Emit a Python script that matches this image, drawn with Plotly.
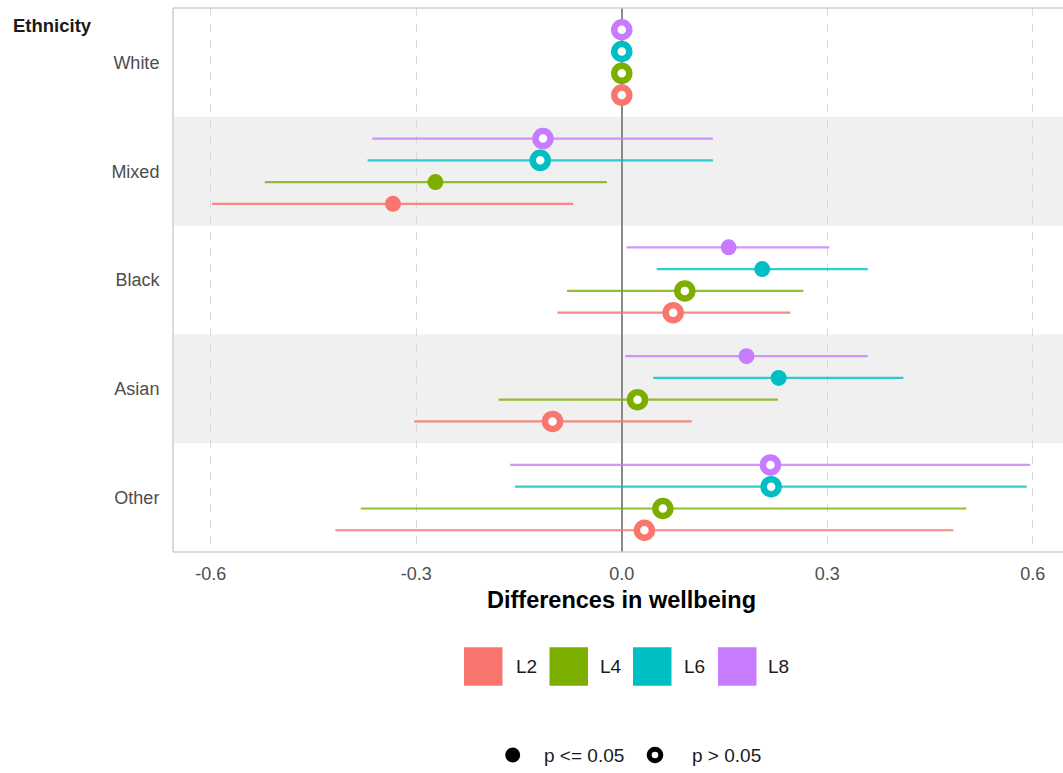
import plotly.graph_objects as go

# ---------------- data ----------------
categories = ["White", "Mixed", "Black", "Asian", "Other"]
levels = ["L2", "L4", "L6", "L8"]

est = {
    "L2": [0.0, -0.334, 0.075, -0.101, 0.033],
    "L4": [0.0, -0.272, 0.092, 0.023, 0.060],
    "L6": [0.0, -0.119, 0.205, 0.229, 0.218],
    "L8": [0.0, -0.115, 0.156, 0.182, 0.217],
}
lo = {
    "L2": [0.0, -0.598, -0.094, -0.303, -0.418],
    "L4": [0.0, -0.521, -0.080, -0.180, -0.381],
    "L6": [0.0, -0.371, 0.051, 0.046, -0.156],
    "L8": [0.0, -0.364, 0.007, 0.005, -0.163],
}
hi = {
    "L2": [0.0, -0.071, 0.246, 0.102, 0.484],
    "L4": [0.0, -0.022, 0.265, 0.228, 0.503],
    "L6": [0.0, 0.133, 0.359, 0.411, 0.591],
    "L8": [0.0, 0.133, 0.303, 0.359, 0.596],
}
# True = p <= 0.05 (filled), False = p > 0.05 (open)
sig = {
    "L2": [False, True, False, False, False],
    "L4": [False, True, False, False, False],
    "L6": [False, False, True, True, False],
    "L8": [False, False, True, True, False],
}
x_ticks = [-0.6, -0.3, 0.0, 0.3, 0.6]
x_tick_text = ["-0.6", "-0.3", "0.0", "0.3", "0.6"]
shape_labels = ["p <= 0.05", "p > 0.05"]

# ---------------- styles ----------------
colors = {"L2": "#F8766D", "L4": "#7CAE00", "L6": "#00BFC4", "L8": "#C77CFF"}
line_colors = {"L2": "rgba(248,118,109,0.85)", "L4": "rgba(124,174,0,0.8)",
               "L6": "rgba(0,191,196,0.8)", "L8": "rgba(199,124,255,0.8)"}
dodge = {"L2": -0.3, "L4": -0.1, "L6": 0.1, "L8": 0.3}
FONT = "Liberation Sans, Arial, Helvetica, sans-serif"

W, H = 1063, 773
L, R, T, B = 173, 0, 8, 221
PW, PH = W - L - R, H - T - B


def px2x(px):
    return (px - L) / PW


def py2y(py):
    return (T + PH - py) / PH


ncat = len(categories)
cat_pos = {c: ncat - i for i, c in enumerate(categories)}

fig = go.Figure()

for lv in levels:
    ys = [cat_pos[c] + dodge[lv] for c in categories]
    e = est[lv]
    plus = [h - v for h, v in zip(hi[lv], e)]
    minus = [v - l for v, l in zip(e, lo[lv])]
    fig.add_trace(go.Scatter(
        x=e, y=ys, mode="markers", name=lv, showlegend=False,
        error_x=dict(type="data", symmetric=False, array=plus, arrayminus=minus,
                     width=0, thickness=2.2, color=line_colors[lv]),
        marker=dict(
            size=[16 if s else 15 for s in sig[lv]],
            opacity=1,
            color=[colors[lv] if s else "white" for s in sig[lv]],
            line=dict(color=colors[lv], width=[0 if s else 6.5 for s in sig[lv]]),
        ),
        hoverinfo="skip",
    ))

shapes = []
# shaded bands for alternating categories
for i, c in enumerate(categories):
    if i % 2 == 1:
        shapes.append(dict(type="rect", xref="paper", yref="y", x0=0, x1=1,
                           y0=cat_pos[c] - 0.5, y1=cat_pos[c] + 0.5,
                           fillcolor="#F0F0F0", line=dict(width=0), layer="below"))
# panel border (left, top, bottom)
border = "#CFCFCF"
shapes += [
    dict(type="line", xref="paper", yref="paper", x0=0, x1=0, y0=0, y1=1,
         line=dict(color=border, width=1.5)),
    dict(type="line", xref="paper", yref="paper", x0=0, x1=1, y0=1, y1=1,
         line=dict(color=border, width=1.5)),
    dict(type="line", xref="paper", yref="paper", x0=0, x1=1, y0=0, y1=0,
         line=dict(color=border, width=1.5)),
]

annotations = []
# colour legend (manual keys)
key_left = [464, 549.5, 633, 718]
label_left = [513.5, 598, 682, 766]
key_size = 38.5
ky = 666.5
for lv, kx, lx in zip(levels, key_left, label_left):
    shapes.append(dict(type="rect", xref="paper", yref="paper",
                       x0=px2x(kx), x1=px2x(kx + key_size),
                       y0=py2y(ky + key_size / 2), y1=py2y(ky - key_size / 2),
                       fillcolor=colors[lv], line=dict(width=0)))
    annotations.append(dict(x=px2x(lx), y=py2y(ky), xref="paper", yref="paper",
                            text=lv, showarrow=False, xanchor="left", yanchor="middle",
                            font=dict(family=FONT, size=19, color="#1A1A1A")))

# shape legend (manual keys)
sy = 755
# filled dot
shapes.append(dict(type="circle", xref="paper", yref="paper",
                   x0=px2x(512.7 - 7.5), x1=px2x(512.7 + 7.5),
                   y0=py2y(sy + 7.5), y1=py2y(sy - 7.5),
                   fillcolor="black", line=dict(width=0)))
# open ring
shapes.append(dict(type="circle", xref="paper", yref="paper",
                   x0=px2x(655 - 5.8), x1=px2x(655 + 5.8),
                   y0=py2y(sy + 5.8), y1=py2y(sy - 5.8),
                   fillcolor="white", line=dict(color="black", width=5)))
for txt, lx in zip(shape_labels, [542, 690]):
    annotations.append(dict(x=px2x(lx), y=py2y(sy), xref="paper", yref="paper",
                            text=txt, showarrow=False, xanchor="left", yanchor="middle",
                            font=dict(family=FONT, size=19, color="#1A1A1A")))

# y legend title
annotations.append(dict(x=px2x(11), y=py2y(25), xref="paper", yref="paper",
                        text="<b>Ethnicity</b>", showarrow=False, xanchor="left",
                        yanchor="middle", font=dict(family=FONT, size=18.5, color="#1A1A1A")))
# x axis title
annotations.append(dict(x=px2x(621), y=py2y(600), xref="paper", yref="paper",
                        text="<b>Differences in wellbeing</b>", showarrow=False,
                        xanchor="center", yanchor="middle",
                        font=dict(family=FONT, size=23.5, color="#000000")))

fig.update_layout(
    width=W, height=H,
    margin=dict(l=L, r=R, t=T, b=B, pad=0),
    plot_bgcolor="white", paper_bgcolor="white",
    shapes=shapes, annotations=annotations,
    showlegend=False,
    font=dict(family=FONT),
    xaxis=dict(range=[-0.655, 0.644], tickvals=x_ticks, ticktext=x_tick_text,
               showgrid=True, gridcolor="#DADADA", gridwidth=1, griddash="8px,8px",
               zeroline=True, zerolinecolor="#8A8A8A", zerolinewidth=2,
               ticks="outside", ticklen=5, tickcolor="rgba(0,0,0,0)",
               tickfont=dict(family=FONT, size=18, color="#4D4D4D"),
               showline=False, fixedrange=True),
    yaxis=dict(range=[0.5, ncat + 0.5], tickvals=[cat_pos[c] for c in categories],
               ticktext=categories, showgrid=False, zeroline=False,
               ticks="outside", ticklen=9, tickcolor="rgba(0,0,0,0)",
               tickfont=dict(family=FONT, size=18, color="#4D4D4D"),
               showline=False, fixedrange=True),
)

fig.write_html("out.html")
